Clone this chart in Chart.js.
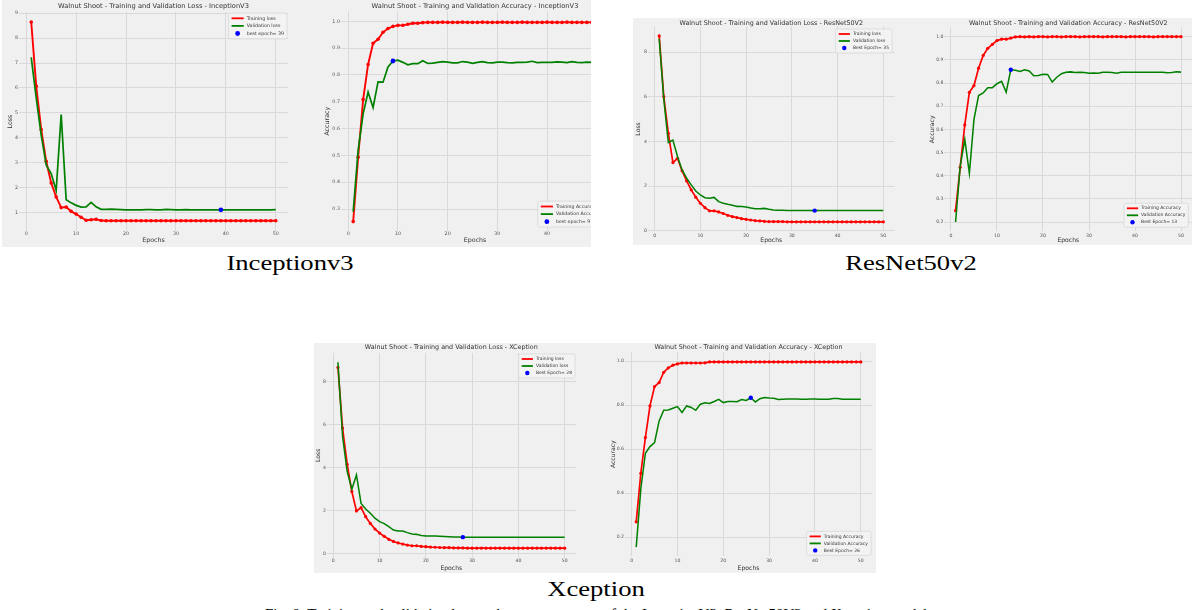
<!DOCTYPE html>
<html lang="en">

<head>
    <meta charset="UTF-8" />
    <title>Walnut Shoot - Training and Validation Curves</title>
    <script src="https://cdn.jsdelivr.net/npm/chart.js"></script>
    <style>
        body {
            margin: 0;
            width: 1192px;
            height: 610px;
            background: #fff;
            position: relative;
            overflow: hidden;
            font-family: 'Liberation Serif', 'Times New Roman', serif;
        }

        .panel {
            position: absolute;
            background: #f0f0f0;
            overflow: hidden;
        }

        .panel canvas {
            position: absolute;
        }

        .caption {
            position: absolute;
            width: 400px;
            text-align: center;
            font-size: 22px;
            line-height: 22px;
            color: #000;
            white-space: nowrap;
            transform: scaleX(1.21);
            transform-origin: center;
        }

        .note {
            position: absolute;
            width: 900px;
            left: 149px;
            top: 606.5px;
            text-align: center;
            font-size: 15px;
            line-height: 15px;
            color: #000;
            white-space: nowrap;
        }
    </style>
</head>

<body>
    <div class="panel" id="p1" style="left:2px;top:0px;width:589px;height:247px"></div>
    <div class="panel" id="p2" style="left:633px;top:18px;width:559px;height:227px"></div>
    <div class="panel" id="p3" style="left:314px;top:343px;width:562px;height:230px"></div>

    <div class="caption" style="left:90px;top:252px">Inceptionv3</div>
    <div class="caption" style="left:711px;top:252px">ResNet50v2</div>
    <div class="caption" style="left:396px;top:578px">Xception</div>
    <div class="note">Fig. 8. Training and validation loss and accuracy curves of the InceptionV3, ResNet50V2 and Xception models</div>

    <script>
        // epochs 1..50 and shared tick values
        const epochs = Array.from({ length: 50 }, (_, i) => i + 1);
        const epochTicks = [0, 10, 20, 30, 40, 50];

        // InceptionV3
        const incLossTrain = [8.65, 6.07, 4.33, 3.05, 2.18, 1.62, 1.19, 1.21, 1.04, 0.93, 0.80, 0.68, 0.70, 0.72, 0.67, 0.66, 0.66, 0.66, 0.66, 0.66,
            0.66, 0.66, 0.66, 0.66, 0.66, 0.66, 0.66, 0.66, 0.66, 0.66, 0.66, 0.66, 0.66, 0.66, 0.66, 0.66, 0.66, 0.66, 0.66, 0.66,
            0.66, 0.66, 0.66, 0.66, 0.66, 0.66, 0.66, 0.66, 0.66, 0.66];
        const incLossVal = [7.23, 5.60, 4.10, 2.90, 2.56, 1.88, 4.93, 1.51, 1.38, 1.28, 1.21, 1.22, 1.40, 1.22, 1.12, 1.12, 1.13, 1.12, 1.11, 1.10,
            1.10, 1.10, 1.10, 1.11, 1.11, 1.10, 1.10, 1.12, 1.11, 1.10, 1.10, 1.11, 1.10, 1.10, 1.10, 1.10, 1.10, 1.10, 1.10, 1.10,
            1.10, 1.10, 1.10, 1.10, 1.10, 1.10, 1.10, 1.10, 1.10, 1.11];
        const incAccTrain = [0.253, 0.493, 0.708, 0.839, 0.918, 0.933, 0.959, 0.973, 0.981, 0.985, 0.985, 0.989, 0.993, 0.993, 0.995, 0.996, 0.996, 0.996, 0.997, 0.996,
            0.996, 0.996, 0.997, 0.996, 0.996, 0.996, 0.997, 0.996, 0.996, 0.996, 0.997, 0.996, 0.996, 0.996, 0.997, 0.996, 0.996, 0.996, 0.996, 0.997,
            0.996, 0.996, 0.996, 0.997, 0.996, 0.996, 0.996, 0.996, 0.996, 0.996];
        const incAccVal = [0.290, 0.520, 0.655, 0.736, 0.678, 0.774, 0.773, 0.830, 0.852, 0.855, 0.847, 0.838, 0.842, 0.842, 0.853, 0.843, 0.844, 0.847, 0.850, 0.848,
            0.845, 0.845, 0.850, 0.848, 0.843, 0.847, 0.850, 0.846, 0.845, 0.848, 0.848, 0.846, 0.845, 0.847, 0.847, 0.848, 0.851, 0.846, 0.847, 0.847,
            0.847, 0.849, 0.848, 0.846, 0.850, 0.847, 0.846, 0.848, 0.847, 0.848];
        const incBestLoss = 39;
        const incBestAcc = 9;

        // ResNet50V2
        const resLossTrain = [8.73, 6.01, 4.37, 3.06, 3.25, 2.69, 2.24, 1.84, 1.51, 1.24, 1.04, 0.90, 0.90, 0.85, 0.78, 0.70, 0.64, 0.60, 0.55, 0.52,
            0.49, 0.46, 0.45, 0.43, 0.42, 0.42, 0.42, 0.42, 0.41, 0.41, 0.41, 0.41, 0.41, 0.41, 0.41, 0.41, 0.41, 0.41, 0.41, 0.41,
            0.41, 0.41, 0.41, 0.41, 0.41, 0.41, 0.41, 0.41, 0.41, 0.41];
        const resLossVal = [8.60, 5.90, 3.96, 4.07, 3.33, 2.73, 2.36, 2.06, 1.79, 1.61, 1.49, 1.46, 1.50, 1.31, 1.24, 1.19, 1.15, 1.10, 1.09, 1.07,
            1.03, 0.99, 0.99, 1.01, 0.97, 0.94, 0.93, 0.93, 0.92, 0.92, 0.92, 0.92, 0.92, 0.92, 0.91, 0.92, 0.92, 0.92, 0.92, 0.92,
            0.92, 0.92, 0.92, 0.92, 0.92, 0.92, 0.92, 0.92, 0.92, 0.92];
        const resAccTrain = [0.249, 0.436, 0.619, 0.760, 0.789, 0.864, 0.919, 0.950, 0.967, 0.983, 0.989, 0.989, 0.994, 0.999, 1.000, 0.999, 1.000, 0.999, 1.000, 1.000,
            0.999, 1.000, 1.000, 0.999, 1.000, 1.000, 1.000, 0.999, 1.000, 1.000, 1.000, 1.000, 0.999, 1.000, 1.000, 1.000, 1.000, 0.999, 1.000, 1.000,
            1.000, 1.000, 1.000, 0.999, 1.000, 1.000, 1.000, 1.000, 1.000, 1.000];
        const resAccVal = [0.200, 0.440, 0.557, 0.410, 0.643, 0.746, 0.757, 0.780, 0.780, 0.797, 0.807, 0.760, 0.857, 0.855, 0.850, 0.857, 0.852, 0.831, 0.832, 0.838,
            0.837, 0.804, 0.825, 0.840, 0.846, 0.848, 0.845, 0.846, 0.845, 0.842, 0.843, 0.842, 0.846, 0.846, 0.845, 0.842, 0.846, 0.846, 0.846, 0.846,
            0.846, 0.846, 0.846, 0.846, 0.846, 0.846, 0.844, 0.845, 0.849, 0.847];
        const resBestLoss = 35;
        const resBestAcc = 13;

        // Xception
        const xcLossTrain = [8.66, 5.84, 4.16, 2.89, 1.99, 2.14, 1.72, 1.41, 1.15, 0.96, 0.81, 0.67, 0.57, 0.50, 0.45, 0.40, 0.37, 0.37, 0.34, 0.33,
            0.31, 0.30, 0.29, 0.28, 0.28, 0.27, 0.27, 0.27, 0.26, 0.26, 0.26, 0.26, 0.26, 0.26, 0.26, 0.26, 0.26, 0.26, 0.26, 0.26,
            0.26, 0.26, 0.26, 0.26, 0.26, 0.26, 0.26, 0.26, 0.26, 0.26];
        const xcLossVal = [8.90, 5.45, 3.82, 3.00, 3.66, 2.34, 2.08, 1.88, 1.65, 1.49, 1.40, 1.26, 1.10, 1.06, 1.06, 0.98, 0.92, 0.90, 0.85, 0.82,
            0.82, 0.82, 0.81, 0.80, 0.79, 0.78, 0.78, 0.77, 0.77, 0.77, 0.77, 0.77, 0.77, 0.77, 0.77, 0.77, 0.77, 0.77, 0.77, 0.77,
            0.77, 0.77, 0.77, 0.77, 0.77, 0.77, 0.77, 0.77, 0.77, 0.77];
        const xcAccTrain = [0.270, 0.491, 0.653, 0.797, 0.885, 0.903, 0.950, 0.970, 0.982, 0.988, 0.992, 0.992, 0.992, 0.992, 0.992, 0.993, 0.997, 0.997, 0.997, 0.997,
            0.997, 0.997, 0.997, 0.997, 0.997, 0.997, 0.997, 0.997, 0.997, 0.997, 0.997, 0.997, 0.997, 0.997, 0.997, 0.997, 0.997, 0.997, 0.997, 0.997,
            0.997, 0.997, 0.997, 0.997, 0.997, 0.997, 0.997, 0.997, 0.997, 0.997];
        const xcAccVal = [0.155, 0.420, 0.582, 0.612, 0.630, 0.729, 0.777, 0.778, 0.786, 0.794, 0.767, 0.797, 0.790, 0.777, 0.805, 0.811, 0.808, 0.817, 0.827, 0.812,
            0.817, 0.817, 0.816, 0.826, 0.822, 0.834, 0.815, 0.830, 0.835, 0.833, 0.832, 0.826, 0.827, 0.828, 0.828, 0.828, 0.827, 0.827, 0.828, 0.828,
            0.827, 0.827, 0.827, 0.831, 0.831, 0.827, 0.827, 0.827, 0.827, 0.827];
        const xcBestLoss = 28;
        const xcBestAcc = 26;

        // y tick values
        const incLossTicks = [1, 2, 3, 4, 5, 6, 7, 8, 9];
        const incAccTicks = [0.3, 0.4, 0.5, 0.6, 0.7, 0.8, 0.9, 1.0];
        const resLossTicks = [0, 2, 4, 6, 8];
        const resAccTicks = [0.2, 0.3, 0.4, 0.5, 0.6, 0.7, 0.8, 0.9, 1.0];
        const xcLossTicks = [0, 2, 4, 6, 8];
        const xcAccTicks = [0.2, 0.4, 0.6, 0.8, 1.0];

        Chart.defaults.font.family = "'DejaVu Sans', sans-serif";
        Chart.defaults.animation = false;

        const panels = { p1: { x: 2, y: 0 }, p2: { x: 633, y: 18 }, p3: { x: 314, y: 343 } };

        // legend box drawn inside the plot, like matplotlib's
        const boxLegend = {
            id: 'boxLegend',
            afterDraw(chart, args, opts) {
                const { ctx, chartArea: a } = chart;
                const sets = chart.data.datasets;
                ctx.save();
                ctx.font = opts.size + "px 'DejaVu Sans', sans-serif";
                const tw = Math.max(...sets.map(d => ctx.measureText(d.label).width));
                const hl = opts.row * 1.6;
                const w = 3 + hl + 3 + tw + 3;
                const h = opts.row * sets.length + 3;
                const x = a.right - opts.margin - w;
                const y = opts.corner === 'ur' ? a.top + opts.margin : a.bottom - opts.margin - h;
                ctx.fillStyle = 'rgba(243,243,243,0.9)';
                ctx.strokeStyle = '#d8d8d8';
                ctx.lineWidth = 0.8;
                ctx.beginPath();
                ctx.roundRect(x, y, w, h, 1.5);
                ctx.fill();
                ctx.stroke();
                sets.forEach((d, i) => {
                    const cy = y + 1.5 + opts.row * (i + 0.5);
                    if (d.showLine === false) {
                        ctx.fillStyle = d.pointBackgroundColor;
                        ctx.beginPath();
                        ctx.arc(x + 3 + hl / 2, cy, d.pointRadius, 0, Math.PI * 2);
                        ctx.fill();
                    } else {
                        ctx.strokeStyle = d.borderColor;
                        ctx.lineWidth = 1.8;
                        ctx.beginPath();
                        ctx.moveTo(x + 3, cy);
                        ctx.lineTo(x + 3 + hl, cy);
                        ctx.stroke();
                    }
                    ctx.fillStyle = '#333';
                    ctx.textBaseline = 'middle';
                    ctx.textAlign = 'left';
                    ctx.fillText(d.label, x + 6 + hl, cy);
                });
                ctx.restore();
            }
        };

        const pts = arr => arr.map((v, i) => ({ x: epochs[i], y: v }));

        function makeChart(c) {
            const p = panels[c.panel];
            const box = c.box, area = c.area, fs = c.fs;
            const cv = document.createElement('canvas');
            cv.width = box.w;
            cv.height = box.h;
            cv.style.left = (box.x - p.x) + 'px';
            cv.style.top = (box.y - p.y) + 'px';
            document.getElementById(c.panel).appendChild(cv);

            const titleTop = c.titleY - box.y - fs.title * 0.6;
            const fmt = c.acc ? (v => Number(v).toFixed(1)) : (v => String(v));

            new Chart(cv.getContext('2d'), {
                type: 'line',
                data: {
                    datasets: [
                        {
                            label: c.labels[0], data: pts(c.train), borderColor: '#ff0000', backgroundColor: '#ff0000',
                            borderWidth: c.lw, pointRadius: c.pr, pointBackgroundColor: '#ff0000', pointBorderWidth: 0, order: 2
                        },
                        {
                            label: c.labels[1], data: pts(c.val), borderColor: '#008000', backgroundColor: '#008000',
                            borderWidth: c.lw * 0.9, pointRadius: 0, order: 1
                        },
                        {
                            label: c.bestText + c.best, data: [{ x: c.best, y: c.val[c.best - 1] }], showLine: false,
                            pointRadius: c.pr + 0.6, pointBackgroundColor: '#0000ff', borderColor: '#0000ff', pointBorderWidth: 0, order: 0
                        }
                    ]
                },
                options: {
                    responsive: false,
                    devicePixelRatio: 1,
                    layout: { padding: { left: 0, top: 0, right: box.x + box.w - area.r, bottom: 0 } },
                    plugins: {
                        legend: { display: false },
                        tooltip: { enabled: false },
                        title: {
                            display: true, text: c.title, color: '#333', fullSize: false,
                            font: { size: fs.title, weight: 'normal' },
                            padding: { top: titleTop, bottom: area.t - box.y - titleTop - fs.title * 1.2 }
                        },
                        boxLegend: c.legend
                    },
                    scales: {
                        x: {
                            type: 'linear', bounds: 'data', min: -1.45, max: 52.45,
                            afterBuildTicks: s => { s.ticks = epochTicks.map(v => ({ value: v })); },
                            afterFit: s => { s.height = box.y + box.h - area.b; },
                            grid: { color: '#d9d9d9', lineWidth: 1, drawTicks: false },
                            border: { display: false },
                            ticks: {
                                autoSkip: false, maxRotation: 0, color: '#555', font: { size: fs.tick },
                                padding: Math.max(0, c.tickY - area.b - fs.tick * 0.6)
                            },
                            title: {
                                display: true, text: 'Epochs', color: '#333', font: { size: fs.axis },
                                padding: { top: 0, bottom: box.y + box.h - c.xTitleY - fs.axis * 0.6 }
                            }
                        },
                        y: {
                            type: 'linear', bounds: 'data', min: c.yMin, max: c.yMax,
                            afterBuildTicks: s => { s.ticks = c.yTicks.map(v => ({ value: v })); },
                            afterFit: s => { s.width = area.l - box.x; },
                            grid: { color: '#d9d9d9', lineWidth: 1, drawTicks: false },
                            border: { display: false },
                            ticks: {
                                autoSkip: false, color: '#555', font: { size: fs.tick },
                                padding: Math.max(0.5, area.l - c.yTickR), callback: fmt
                            },
                            title: {
                                display: true, text: c.yLabel, color: '#333', font: { size: fs.axis },
                                padding: { top: c.yTitleX - box.x - fs.axis * 0.6, bottom: 0 }
                            }
                        }
                    }
                },
                plugins: [boxLegend]
            });
        }

        const bigFont = { title: 6.7, axis: 6.3, tick: 4.8 };
        const smallFont = { title: 6.4, axis: 6.1, tick: 4.6 };

        const charts = [
            {
                panel: 'p1', box: { x: 2, y: 0, w: 308, h: 247 }, area: { l: 19, r: 288, t: 12, b: 231 },
                titleY: 6.7, tickY: 233, xTitleY: 240.7, yTitleX: 10, yTickR: 18, fs: bigFont, lw: 1.9, pr: 1.8,
                title: 'Walnut Shoot - Training and Validation Loss - InceptionV3', yLabel: 'Loss', acc: false,
                train: incLossTrain, val: incLossVal, best: incBestLoss, bestText: 'best epoch= ',
                labels: ['Training loss', 'Validation loss'], yMin: 0.25, yMax: 9.05, yTicks: incLossTicks,
                legend: { corner: 'ur', margin: 1, size: 4.7, row: 7.6 }
            },
            {
                panel: 'p1', box: { x: 310, y: 0, w: 310, h: 247 }, area: { l: 341, r: 609, t: 11.4, b: 231 },
                titleY: 6.7, tickY: 234, xTitleY: 240.7, yTitleX: 327, yTickR: 340, fs: bigFont, lw: 1.9, pr: 1.8,
                title: 'Walnut Shoot - Training and Validation Accuracy - InceptionV3', yLabel: 'Accuracy', acc: true,
                train: incAccTrain, val: incAccVal, best: incBestAcc, bestText: 'best epoch= ',
                labels: ['Training Accuracy', 'Validation Accuracy'], yMin: 0.218, yMax: 1.037, yTicks: incAccTicks,
                legend: { corner: 'lr', margin: 4, size: 4.7, row: 7.6 }
            },
            {
                panel: 'p2', box: { x: 633, y: 18, w: 292, h: 227 }, area: { l: 648, r: 894.5, t: 26.5, b: 231.4 },
                titleY: 23.3, tickY: 235.5, xTitleY: 240.7, yTitleX: 638, yTickR: 647, fs: smallFont, lw: 1.7, pr: 1.6,
                title: 'Walnut Shoot - Training and Validation Loss - ResNet50V2', yLabel: 'Loss', acc: false,
                train: resLossTrain, val: resLossVal, best: resBestLoss, bestText: 'Best Epoch= ',
                labels: ['Training loss', 'Validation loss'], yMin: -0.02, yMax: 9.15, yTicks: resLossTicks,
                legend: { corner: 'ur', margin: 2.5, size: 4.5, row: 7 }
            },
            {
                panel: 'p2', box: { x: 925, y: 18, w: 280, h: 227 }, area: { l: 944.3, r: 1192.3, t: 27.4, b: 231.3 },
                titleY: 23.3, tickY: 235.3, xTitleY: 240.7, yTitleX: 932, yTickR: 943.5, fs: smallFont, lw: 1.7, pr: 1.6,
                title: 'Walnut Shoot - Training and Validation Accuracy - ResNet50V2', yLabel: 'Accuracy', acc: true,
                train: resAccTrain, val: resAccVal, best: resBestAcc, bestText: 'Best Epoch= ',
                labels: ['Training Accuracy', 'Validation Accuracy'], yMin: 0.16, yMax: 1.04, yTicks: resAccTicks,
                legend: { corner: 'lr', margin: 4, size: 4.5, row: 7 }
            },
            {
                panel: 'p3', box: { x: 314, y: 343, w: 276, h: 230 }, area: { l: 326.6, r: 576, t: 353, b: 557.6 },
                titleY: 347.3, tickY: 561, xTitleY: 568, yTitleX: 318.3, yTickR: 326, fs: smallFont, lw: 1.7, pr: 1.6,
                title: 'Walnut Shoot - Training and Validation Loss - XCeption', yLabel: 'Loss', acc: false,
                train: xcLossTrain, val: xcLossVal, best: xcBestLoss, bestText: 'Best Epoch= ',
                labels: ['Training loss', 'Validation loss'], yMin: -0.18, yMax: 9.33, yTicks: xcLossTicks,
                legend: { corner: 'ur', margin: 1, size: 4.5, row: 7 }
            },
            {
                panel: 'p3', box: { x: 590, y: 343, w: 286, h: 230 }, area: { l: 625, r: 874, t: 352, b: 556.4 },
                titleY: 347.3, tickY: 561, xTitleY: 568.7, yTitleX: 613.3, yTickR: 624, fs: smallFont, lw: 1.7, pr: 1.6,
                title: 'Walnut Shoot - Training and Validation Accuracy - XCeption', yLabel: 'Accuracy', acc: true,
                train: xcAccTrain, val: xcAccVal, best: xcBestAcc, bestText: 'Best Epoch= ',
                labels: ['Training Accuracy', 'Validation Accuracy'], yMin: 0.113, yMax: 1.042, yTicks: xcAccTicks,
                legend: { corner: 'lr', margin: 1, size: 4.5, row: 7 }
            }
        ];

        charts.forEach(makeChart);
    </script>
</body>

</html>
